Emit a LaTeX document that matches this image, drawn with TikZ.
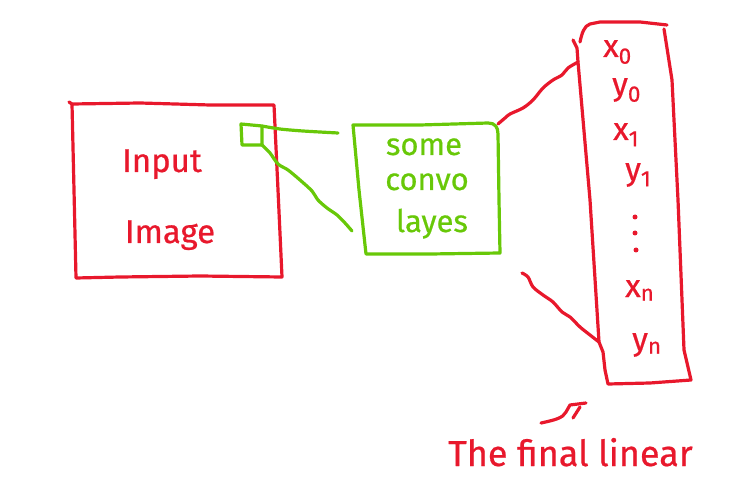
\documentclass[tikz,border=0pt]{standalone}
\usepackage{fontspec}
\setmainfont[FakeBold=0.6]{Fira Sans}
\definecolor{inkred}{RGB}{232,24,44}
\definecolor{inkgreen}{RGB}{104,200,8}
\begin{document}
\begin{tikzpicture}[x=1pt,y=-1pt,
  pen/.style={line width=3.2pt,line cap=round,line join=round},
  redpen/.style={pen,draw=inkred},
  greenpen/.style={pen,draw=inkgreen},
  redword/.style={text=inkred,inner sep=0pt,font=\fontsize{33}{36}\selectfont},
  greenword/.style={text=inkgreen,inner sep=0pt,font=\fontsize{31}{34}\selectfont},
  outword/.style={text=inkred,inner sep=0pt,anchor=base west,font=\fontsize{32}{34}\selectfont},
  dot/.style={circle,fill=inkred,inner sep=0pt,minimum size=5pt},
]
\useasboundingbox (0,0) rectangle (733,478);

% ---- input image box ----
\coordinate (inTL) at (72,104);
\coordinate (inTR) at (274,105);
\coordinate (inBR) at (282,277);
\coordinate (inBL) at (76,278);
\draw[redpen] (69,102) -- (inTL) -- (140,103) -- (210,105) -- (inTR)
  -- (278,190) -- (inBR) -- (200,276) -- (120,277) -- (inBL) -- (74,190) -- (inTL);
\node[redword,anchor=base] (input) at (162,172) {Input};
\node[redword,anchor=base] (image) at (170,243) {Image};

% ---- receptive patch on the image ----
\coordinate (pTL) at (241,124);
\coordinate (pTR) at (262,126);
\coordinate (pBR) at (262,145);
\coordinate (pBL) at (242,145);
\draw[greenpen] (pTL) -- (pTR) -- (pBR) -- (pBL) -- cycle;

% ---- convolution box ----
\coordinate (cvTL) at (353,125);
\coordinate (cvTR) at (498,124);
\coordinate (cvBR) at (500,253);
\coordinate (cvBL) at (366,254);
\coordinate (cvIn) at (338,133);
\coordinate (cvLow) at (352,231);
\draw[greenpen] (cvTL) -- (420,125) -- (488,123)
  .. controls (495,123) and (498,127) .. (498,134)
  -- (499,200) -- (cvBR) -- (430,254) -- (cvBL) -- (359,190) -- cycle;
\node[greenword,anchor=base] (some) at (424,155) {some};
\node[greenword,anchor=base] (convo) at (427,190) {convo};
\node[greenword,anchor=base] (layes) at (432,232) {layes};

% patch projected onto the convolution layers
\draw[greenpen] plot[smooth,tension=0.5] coordinates {(pTR) (280,129) (303,131) (cvIn)};
\draw[greenpen] plot[smooth,tension=0.5] coordinates {(pBR) (270,153) (278,164) (288,170) (300,180)
  (312,191) (318,200) (327,208) (337,215) (345,223) (cvLow)};

% ---- output vector box ----
\coordinate (vHook) at (573,40);
\coordinate (vTL) at (580,42);
\coordinate (vL1) at (578,62);
\coordinate (vL2) at (599,342);
\coordinate (vBL) at (608,384);
\coordinate (vBR) at (691,380);
\coordinate (vTR) at (664,29);
\draw[redpen] (vHook) -- (577,48) -- (vL1) -- (590,200) -- (vL2) -- (603,352) -- (605,370) -- (vBL)
  -- (650,383) -- (vBR) -- (684,350) -- (678,200) -- (672,80) -- (vTR);
\draw[redpen] (vTL) .. controls (582,33) and (584,26) .. (590,24) -- (600,22) -- (640,22) -- (667,25);

\node[outword] (x0) at (603,57) {x\textsubscript{0}};
\node[outword] (y0) at (612,95) {y\textsubscript{0}};
\node[outword] (x1) at (613,140) {x\textsubscript{1}};
\node[outword] (y1) at (625,180) {y\textsubscript{1}};
\node[dot] (d1) at (635,217) {};
\node[dot] (d2) at (635,233) {};
\node[dot] (d3) at (636,250) {};
\node[outword] (xn) at (625,297) {x\textsubscript{n}};
\node[outword] (yn) at (632,350) {y\textsubscript{n}};

% convolution output feeding the final vector
\draw[redpen] plot[smooth,tension=0.5] coordinates {(cvTR) (505,118) (510,114) (523,108) (533,100) (543,88)
  (553,80) (562,75) (568,68) (vL1)};
\coordinate (cvOut) at (522,273);
\draw[redpen] plot[smooth,tension=0.5] coordinates {(cvOut) (528,277) (533,287) (543,295) (553,302)
  (562,312) (570,317) (580,327) (590,335) (vL2)};

% ---- caption with pointer ----
\node[text=inkred,inner sep=0pt,anchor=base west,font=\fontsize{36}{38}\selectfont] (caption) at (448,466) {The final linear};
\coordinate (arTail) at (541,423);
\coordinate (arHead) at (586,403);
\draw[redpen] (arTail) .. controls (555,420) and (563,418) .. (566,412) -- (570,405) -- (arHead);
\draw[redpen] (573,418) -- (580,407);
\end{tikzpicture}
\end{document}
